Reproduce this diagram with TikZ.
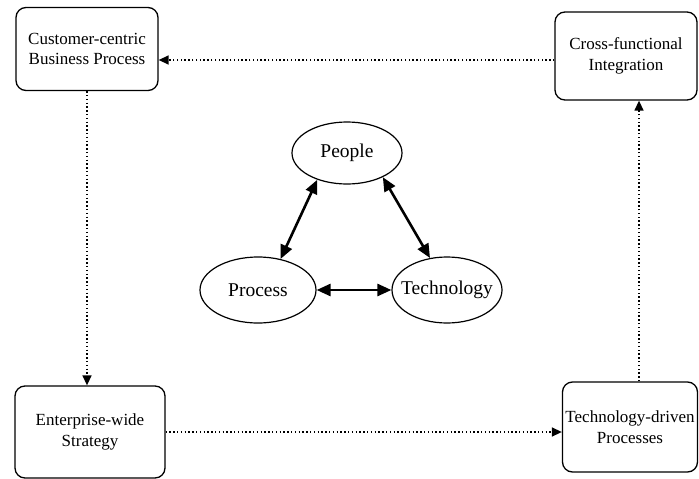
\documentclass[tikz,border=0pt]{standalone}
\usepackage{fontspec}
\setmainfont{Liberation Serif}
\usetikzlibrary{shapes.geometric,arrows.meta}
\begin{document}
\begin{tikzpicture}[x=1pt,y=-1pt,
  box/.style={draw,line width=1.3pt,rounded corners=10pt,align=center,
    font=\fontsize{17}{20.5}\selectfont,inner sep=0pt},
  ell/.style={draw,ellipse,line width=1.2pt,inner sep=0pt,
    font=\fontsize{19.5}{22}\selectfont},
  flow/.style={line width=1.4pt,dash pattern=on 1.4pt off 2.4pt,
    -{Triangle[length=10pt,width=9pt]}},
  link/.style={line width=2.6pt,
    {Triangle[length=14pt,width=12pt]}-{Triangle[length=14pt,width=12pt]}}]
\useasboundingbox (0,0) rectangle (699,479);

% corner boxes
\node[box,minimum width=142pt,minimum height=83pt] (cbp) at (87,49) {Customer-centric\\Business Process};
\node[box,minimum width=142pt,minimum height=88pt] (cfi) at (626,56) {Cross-functional\\Integration};
\node[box,minimum width=150pt,minimum height=92pt] (ews) at (90,432) {Enterprise-wide\\Strategy};
\node[box,minimum width=135pt,minimum height=90pt] (tdp) at (630,427) {Technology-driven\\Processes};

% central triad
\node[ell,minimum width=110pt,minimum height=62pt] (people) at (347,153) {\makebox[0pt]{People}};
\node[ell,minimum width=116pt,minimum height=66pt] (process) at (258,290) {\makebox[0pt]{Process}};
\node[ell,minimum width=110pt,minimum height=66pt] (tech) at (447,290) {\makebox[0pt]{Technology}};

\draw[link] (people.222) -- (process.54);
\draw[link] (people.326) -- (tech.118);
\draw[link] (process.east) -- (tech.west);

% dotted cycle around the boxes
\draw[flow] ([yshift=-4pt]cfi.west) -- ([yshift=-4pt]cfi.west -| cbp.east);
\draw[flow] (cbp.south) -- (cbp.south |- ews.north);
\draw[flow] (ews.east) -- (ews.east -| tdp.west);
\draw[flow] ([xshift=9pt]tdp.north) -- ([xshift=9pt]tdp.north |- cfi.south);
\end{tikzpicture}
\end{document}
